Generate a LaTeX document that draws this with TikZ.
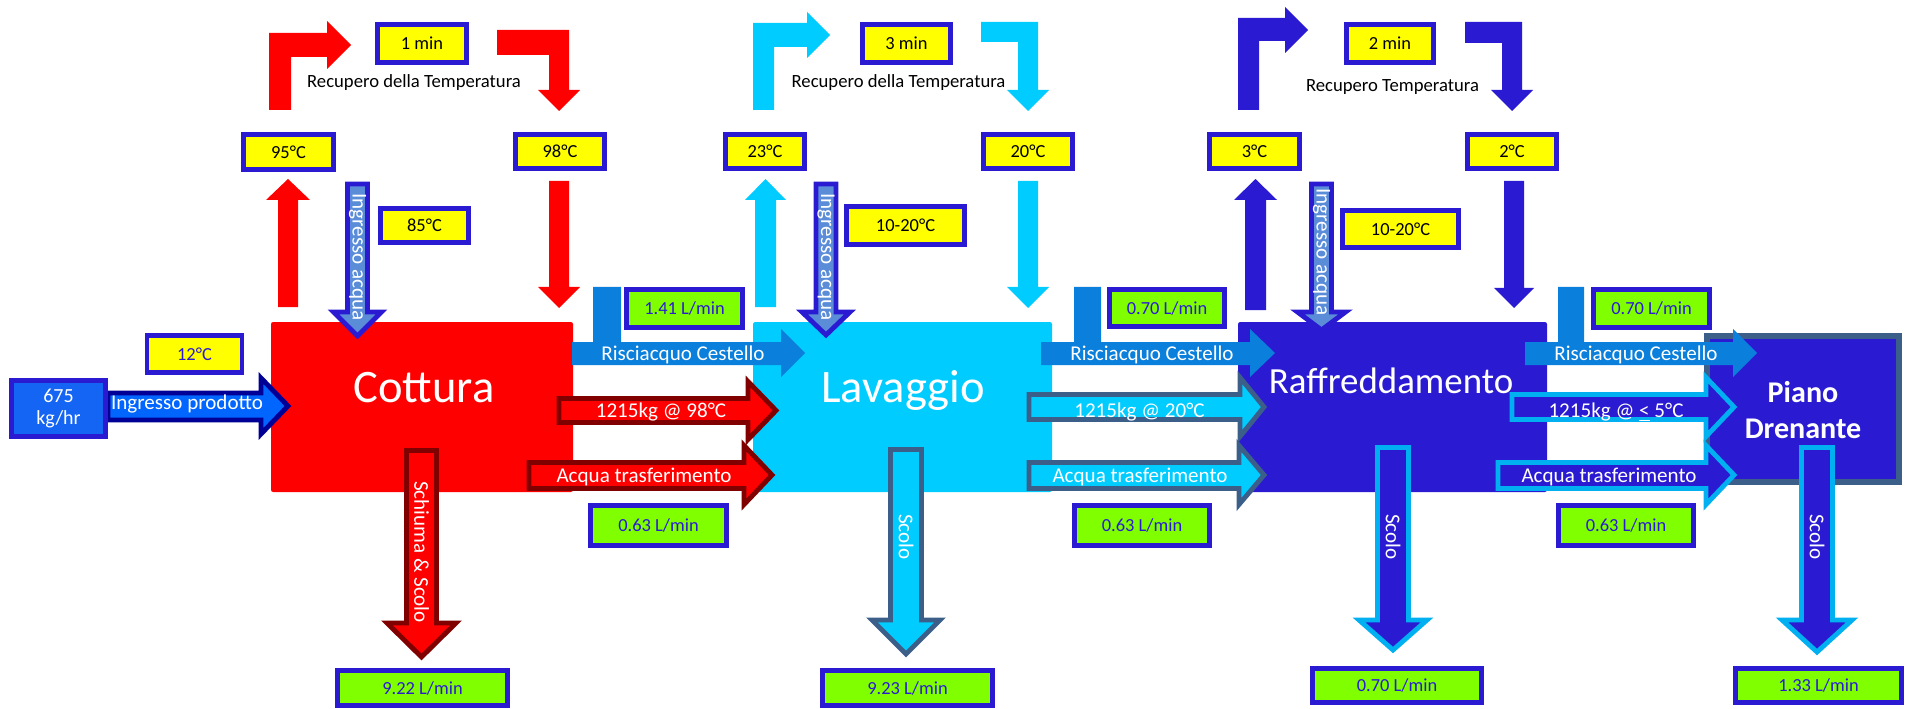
\documentclass[tikz,border=0pt]{standalone}
\usepackage{fontspec}
\setmainfont{Carlito}
\usepackage{tikz}
\definecolor{cotRed}{HTML}{FF0000}
\definecolor{cotDark}{HTML}{800000}
\definecolor{lavCyan}{HTML}{00CCFF}
\definecolor{lavSteel}{HTML}{3C5F8A}
\definecolor{rafBlue}{HTML}{2A1BD3}
\definecolor{rafSky}{HTML}{00B0F0}
\definecolor{rinseBlue}{HTML}{0A7FDB}
\definecolor{waterBlue}{HTML}{5A8CD8}
\definecolor{prodBlue}{HTML}{1565F5}
\definecolor{prodArrow}{HTML}{0066FF}
\definecolor{prodNavy}{HTML}{000096}
\definecolor{tagYellow}{HTML}{FFFF00}
\definecolor{tagGreen}{HTML}{80FF00}

\begin{document}
\begin{tikzpicture}[
  x=0.016cm, y=-0.016cm,
  tag/.style={draw=rafBlue, line width=2.2pt, inner sep=0pt,
    font=\fontsize{8.4}{10}\selectfont},
  temp/.style={tag, fill=tagYellow},
  rate/.style={tag, fill=tagGreen, text=rafBlue},
  stage/.style={rounded corners=1pt, inner sep=0pt},
  unit/.style={font=\fontsize{21.2}{25}\selectfont, text=white, anchor=base},
  flowtxt/.style={font=\fontsize{9.6}{11}\selectfont, text=white, anchor=base},
  sidetxt/.style={flowtxt, anchor=center, rotate=-90},
  note/.style={font=\fontsize{8.5}{10}\selectfont, anchor=base},
  fat/.style={line width=2.2pt, line join=miter}
]
  \useasboundingbox (0,0) rectangle (1905,709);

  % Process stages
  \node[stage, fill=cotRed, minimum width=302*0.016cm,
    minimum height=170*0.016cm] (cott) at (422,407) {};
  \node[stage, fill=lavCyan, minimum width=299*0.016cm,
    minimum height=170*0.016cm] (lav) at (902.5,407) {};
  \node[stage, fill=rafBlue, minimum width=309*0.016cm,
    minimum height=170*0.016cm] (raff) at (1392.5,407) {};
  \node[draw=lavSteel, line width=2.6pt, fill=rafBlue, inner sep=0pt,
    minimum width=192*0.016cm, minimum height=146*0.016cm] (piano) at (1803,409) {};

  % Temperature recovery loops
  \fill[cotRed] (269,110) -- (269,33) -- (327,33) -- (327,21) -- (351,45)
    -- (327,69) -- (327,57) -- (291,57) -- (291,110) -- cycle;
  \fill[cotRed] (497,30) -- (569,30) -- (569,90) -- (580,90) -- (559,111)
    -- (538,90) -- (549,90) -- (549,55) -- (497,55) -- cycle;
  \fill[cotRed] (278,307) -- (278,200) -- (266,200) -- (288,179) -- (310,200)
    -- (298,200) -- (298,307) -- cycle;
  \fill[cotRed] (549,181) -- (569,181) -- (569,287) -- (580,287) -- (559,308)
    -- (538,287) -- (549,287) -- cycle;

  \fill[lavCyan] (753,110) -- (753,23) -- (807,23) -- (807,12) -- (830,35)
    -- (807,58) -- (807,47) -- (774,47) -- (774,110) -- cycle;
  \fill[lavCyan] (981,22) -- (1038,22) -- (1038,90) -- (1049,90) -- (1028,111)
    -- (1007,90) -- (1018,90) -- (1018,42) -- (981,42) -- cycle;
  \fill[lavCyan] (755,307) -- (755,200) -- (745,200) -- (765.5,179) -- (786,200)
    -- (776,200) -- (776,307) -- cycle;
  \fill[lavCyan] (1018,181) -- (1038,181) -- (1038,287) -- (1049,287) -- (1028,308)
    -- (1007,287) -- (1018,287) -- cycle;

  \fill[rafBlue] (1238,110) -- (1238,18) -- (1285,18) -- (1285,7) -- (1308,30)
    -- (1285,53) -- (1285,41) -- (1259,41) -- (1259,110) -- cycle;
  \fill[rafBlue] (1465,22) -- (1522,22) -- (1522,90) -- (1533,90) -- (1512,111)
    -- (1491,90) -- (1502,90) -- (1502,43) -- (1465,43) -- cycle;
  \fill[rafBlue] (1245,310) -- (1245,200) -- (1234,200) -- (1255.5,179) -- (1277,200)
    -- (1266,200) -- (1266,310) -- cycle;
  \fill[rafBlue] (1504,181) -- (1524,181) -- (1524,288) -- (1534,288) -- (1514,308)
    -- (1494,288) -- (1504,288) -- cycle;

  % Water inlets
  \foreach \cx/\tip in {357.5/336, 826/335, 1321.5/330}{
    \filldraw[fat, draw=rafBlue, fill=waterBlue]
      (\cx-10,184) -- (\cx+10,184) -- (\cx+10,312) -- (\cx+24,312)
      -- (\cx,\tip) -- (\cx-24,312) -- (\cx-10,312) -- cycle;
  }

  % Product feed
  \filldraw[fat, draw=prodNavy, fill=prodArrow] (108,393) -- (261,393) -- (261,378)
    -- (288,406) -- (261,434) -- (261,420) -- (108,420) -- cycle;
  \node[draw=rafBlue, line width=2.2pt, fill=prodBlue, inner sep=0pt,
    minimum width=94*0.016cm, minimum height=56*0.016cm, text=white, align=center,
    font=\fontsize{9.1}{10}\selectfont] (feed) at (58.5,408.5) {675\\kg/hr};

  % Basket rinse
  \fill[rinseBlue] (572,342) -- (593,342) -- (593,287) -- (621,287) -- (621,342)
    -- (781,342) -- (781,329) -- (805,353) -- (781,377) -- (781,365) -- (572,365) -- cycle;
  \fill[rinseBlue] (1041,342) -- (1074,342) -- (1074,287) -- (1101,287) -- (1101,342)
    -- (1250,342) -- (1250,329) -- (1275,353) -- (1250,377) -- (1250,365) -- (1041,365) -- cycle;
  \fill[rinseBlue] (1525,342) -- (1558,342) -- (1558,287) -- (1584,287) -- (1584,342)
    -- (1733,342) -- (1733,329) -- (1757,353) -- (1733,377) -- (1733,365) -- (1525,365) -- cycle;

  % Transfers
  \filldraw[fat, draw=cotDark, fill=cotRed] (559,398.5) -- (748,398.5) -- (748,381.5)
    -- (776,410.5) -- (748,439.5) -- (748,422.5) -- (559,422.5) -- cycle;
  \filldraw[fat, draw=cotDark, fill=cotRed] (529,462.5) -- (744,462.5) -- (744,445.5)
    -- (772,475) -- (744,504.5) -- (744,488.5) -- (529,488.5) -- cycle;
  \filldraw[fat, draw=lavSteel, fill=lavCyan] (1029,394.5) -- (1240,394.5) -- (1240,377.5)
    -- (1264,407) -- (1240,436.5) -- (1240,419.5) -- (1029,419.5) -- cycle;
  \filldraw[fat, draw=lavSteel, fill=lavCyan] (1029,462.5) -- (1239,462.5) -- (1239,445.5)
    -- (1264,475) -- (1239,504.5) -- (1239,488.5) -- (1029,488.5) -- cycle;
  \filldraw[fat, draw=rafSky, fill=rafBlue] (1512,394.5) -- (1706,394.5) -- (1706,377.5)
    -- (1734,407) -- (1706,436.5) -- (1706,419.5) -- (1512,419.5) -- cycle;
  \filldraw[fat, draw=rafSky, fill=rafBlue] (1498,462.5) -- (1706,462.5) -- (1706,445.5)
    -- (1734,475) -- (1706,504.5) -- (1706,488.5) -- (1498,488.5) -- cycle;

  % Drains
  \filldraw[fat, draw=cotDark, fill=cotRed] (406.5,450.5) -- (436.5,450.5) -- (436.5,623)
    -- (456,623) -- (421.5,657) -- (387,623) -- (406.5,623) -- cycle;
  \filldraw[fat, draw=lavSteel, fill=lavCyan] (890.5,449.5) -- (921.5,449.5) -- (921.5,620)
    -- (940,620) -- (906,654) -- (872,620) -- (890.5,620) -- cycle;
  \filldraw[fat, draw=rafSky, fill=rafBlue] (1377.5,447.5) -- (1408.5,447.5) -- (1408.5,620)
    -- (1427,620) -- (1393,650) -- (1359,620) -- (1377.5,620) -- cycle;
  \filldraw[fat, draw=rafSky, fill=rafBlue] (1801.5,447.5) -- (1832.5,447.5) -- (1832.5,620)
    -- (1852,620) -- (1817,652) -- (1782,620) -- (1801.5,620) -- cycle;

  % Stage names
  \node[unit] (cottTxt) at (424,402) {Cottura};
  \node[unit] (lavTxt) at (903,402) {Lavaggio};
  \node[unit, font=\fontsize{16.8}{20}\selectfont] (raffTxt) at (1391,393) {Raffreddamento};
  \node[text=white, align=center, font=\bfseries\fontsize{13.7}{16.8}\selectfont]
    (pianoTxt) at (1803,410) {Piano\\Drenante};

  % Arrow labels
  \node[flowtxt] (txtProd) at (187,409) {Ingresso prodotto};
  \node[flowtxt] (txtRinA) at (683,360) {Risciacquo Cestello};
  \node[flowtxt] (txtRinB) at (1152,360) {Risciacquo Cestello};
  \node[flowtxt] (txtRinC) at (1636,360) {Risciacquo Cestello};
  \node[flowtxt] (txtKgA) at (661,417) {1215kg @ 98°C};
  \node[flowtxt] (txtAcqA) at (644,482) {Acqua trasferimento};
  \node[flowtxt] (txtKgB) at (1139.5,417) {1215kg @ 20°C};
  \node[flowtxt] (txtAcqB) at (1140,482) {Acqua trasferimento};
  \node[flowtxt] (txtKgC) at (1616,417) {1215kg @ \underline{<} 5°C};
  \node[flowtxt] (txtAcqC) at (1609,482) {Acqua trasferimento};
  \node[sidetxt] (txtInA) at (357.5,257) {Ingresso acqua};
  \node[sidetxt] (txtInB) at (826,257) {Ingresso acqua};
  \node[sidetxt] (txtInC) at (1321.5,252) {Ingresso acqua};
  \node[sidetxt] (txtSch) at (421.5,552) {Schiuma \& Scolo};
  \node[sidetxt] (txtScA) at (906,537) {Scolo};
  \node[sidetxt] (txtScB) at (1393,537) {Scolo};
  \node[sidetxt] (txtScC) at (1817,537) {Scolo};

  \node[note] (recA) at (414,88) {Recupero della Temperatura};
  \node[note] (recB) at (898.5,88) {Recupero della Temperatura};
  \node[note] (recC) at (1392.5,92) {Recupero Temperatura};

  % Temperatures and times
  \foreach \n/\x/\y/\w/\h/\t in {
    tMinA/422/43.5/94/43/{1 min}, tMinB/906.5/43.5/93/43/{3 min},
    tMinC/1390/43.5/92/43/{2 min},
    t95/288.5/152/95/40/{95°C}, t98/560/151.5/94/39/{98°C},
    t23/765/151.5/84/39/{23°C}, t20/1028/151.5/94/39/{20°C},
    t3/1254.5/151.5/95/39/{3°C}, t2/1512/151.5/94/39/{2°C},
    t85/424.5/225.5/93/39/{85°C}, t1020a/905.5/225.5/123/43/{10-20°C},
    t1020b/1400.5/229/121/42/{10-20°C}%
  }{
    \node[temp, minimum width=(\w-5)*0.016cm, minimum height=(\h-5)*0.016cm]
      (\n) at (\x,\y) {\t};
  }
  \node[temp, text=rafBlue, minimum width=95*0.016cm, minimum height=37*0.016cm]
    (t12) at (194.5,354) {12°C};

  % Flow rates
  \foreach \n/\x/\y/\w/\h/\t in {
    f141/684.5/308.5/121/43/{1.41 L/min}, f070a/1167/308/120/42/{0.70 L/min},
    f070b/1651.5/308.5/121/43/{0.70 L/min},
    f063a/658.5/525.5/141/45/{0.63 L/min}, f063b/1142/525.5/140/45/{0.63 L/min},
    f063c/1626/525.5/140/45/{0.63 L/min},
    f922/422.5/688/175/40/{9.22 L/min}, f923/907.5/688/175/40/{9.23 L/min},
    f070c/1397/685.5/174/39/{0.70 L/min}, f133/1818.5/685.5/171/39/{1.33 L/min}%
  }{
    \node[rate, minimum width=(\w-5)*0.016cm, minimum height=(\h-5)*0.016cm]
      (\n) at (\x,\y) {\t};
  }
\end{tikzpicture}
\end{document}
